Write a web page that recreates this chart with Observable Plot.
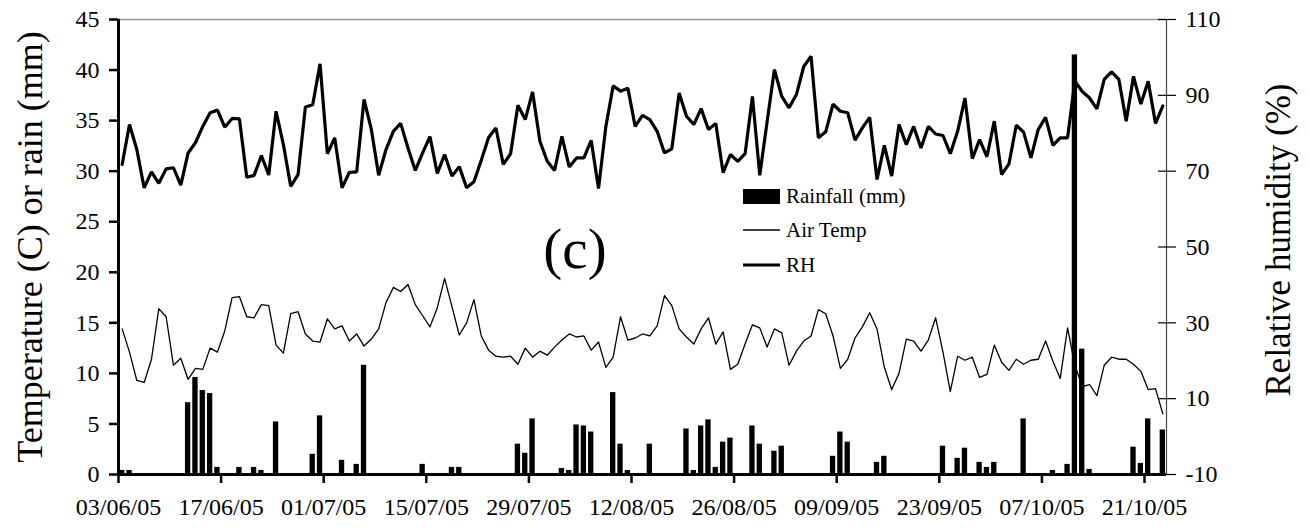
<!DOCTYPE html>
<html><head><meta charset="utf-8">
<script src="https://cdn.jsdelivr.net/npm/d3@7"></script>
<script src="https://cdn.jsdelivr.net/npm/@observablehq/plot@0.6"></script>
<style>
body{margin:0;background:#fff;}
#wrap{position:relative;width:1310px;height:530px;}
</style></head><body><div id="wrap"></div>
<script>
const startDate = "03/06/05";
const tickLabels = ["03/06/05","17/06/05","01/07/05","15/07/05","29/07/05","12/08/05","26/08/05","09/09/05","23/09/05","07/10/05","21/10/05"];
const tempTicks = [0,5,10,15,20,25,30,35,40,45];
const rhTicks = [-10,10,30,50,70,90,110];
const legendLabels = ["Rainfall (mm)","Air Temp","RH"];
const panelLabel = "(c)";
const yLabel = "Temperature (C) or rain (mm)";
const y2Label = "Relative humidity (%)";

const rain = [0.4,0.4,0,0,0,0,0,0,0.1,7.1,9.6,8.3,8.0,0.7,0,0,0.7,0,0.7,0.4,
0,5.2,0,0,0,0,2.0,5.8,0.1,0,1.4,0,1.0,10.8,0,0,0,0,0,0,
0,1.0,0,0,0,0.7,0.7,0,0,0.1,0,0,0,0,3.0,2.1,5.5,0,0,0,
0.6,0.4,4.9,4.8,4.2,0,0,8.1,3.0,0.4,0.1,0,3.0,0,0,0,0,4.5,0.4,4.8,
5.4,0.7,3.2,3.6,0,0,4.8,3.0,0,2.3,2.8,0,0,0.1,0,0,0.1,1.8,4.2,3.2,
0,0,0.1,1.2,1.8,0,0,0,0.1,0.1,0.1,0,2.8,0,1.6,2.6,0.1,1.2,0.7,1.2,
0,0,0,5.5,0,0,0,0.4,0.1,1.0,41.5,12.4,0.5,0.1,0,0,0.1,0,2.7,1.1,
5.5,0.1,4.4];
const airTemp = [14.4,12.1,9.3,9.1,11.4,16.4,15.6,10.8,11.5,9.4,10.5,10.4,12.5,12.1,14.2,17.5,17.6,15.6,15.5,16.8,
16.7,12.8,12.0,15.9,16.1,13.9,13.2,13.1,15.4,14.4,14.7,13.2,13.9,12.7,13.4,14.4,17.0,18.5,18.1,18.8,
16.8,15.7,14.6,16.5,19.4,16.6,13.8,15.0,17.3,13.7,12.3,11.7,11.6,11.7,10.9,12.5,11.6,12.2,11.8,12.6,
13.3,13.9,13.6,13.7,12.3,13.1,10.6,11.6,15.6,13.3,13.5,13.9,13.7,14.7,17.7,16.7,14.4,13.6,12.9,14.4,
15.5,12.9,14.1,10.4,10.9,12.9,14.8,14.5,12.6,14.4,14.0,10.8,12.2,13.2,13.7,16.3,15.9,13.7,10.5,11.4,
13.5,14.6,16.0,14.4,10.6,8.4,10.0,13.4,13.2,12.2,13.3,15.5,12.1,8.2,11.7,11.3,11.6,9.6,9.9,12.8,
11.1,10.3,11.4,10.9,11.3,11.4,13.2,11.2,9.5,14.5,10.8,8.7,8.9,7.8,10.8,11.6,11.4,11.4,10.9,10.2,
8.4,8.5,6.0];
const rh = [71.8,82.3,75.7,65.6,69.8,66.8,70.6,70.9,66.3,74.8,77.5,81.8,85.4,86.1,81.6,83.9,83.8,68.4,68.9,74.1,
69.0,85.8,77.0,66.0,69.1,86.9,87.5,98.3,74.6,78.8,65.6,69.7,69.8,88.9,81.0,68.9,75.7,80.5,82.6,76.1,
70.2,74.8,79.1,69.4,74.4,68.7,71.2,65.6,67.2,72.9,78.9,81.4,71.8,74.6,87.4,83.6,90.9,77.9,72.6,70.2,
79.2,71.1,73.5,73.5,78.1,65.4,81.8,92.5,91.1,91.9,81.8,84.7,83.6,80.5,74.8,75.9,90.6,84.5,82.3,86.5,
81.0,82.6,69.6,74.4,72.6,74.6,89.7,68.9,83.0,96.8,89.7,86.7,90.2,97.6,100.3,78.8,80.4,87.7,85.8,85.4,
78.2,81.4,84.2,67.8,76.8,68.7,82.3,77.0,81.8,76.1,81.8,79.8,79.4,74.6,80.5,89.3,73.3,78.3,73.8,83.2,
69.1,71.9,82.1,80.3,73.5,81.0,84.2,76.8,78.8,78.8,93.7,91.0,89.3,86.4,94.2,96.2,94.2,83.2,95.0,87.7,
93.7,82.6,87.2];

const FONT = "'Liberation Serif', 'Times New Roman', serif";
const parse = d3.utcParse("%d/%m/%y");
const fmt = d3.utcFormat("%d/%m/%y");
const t0 = parse(startDate);
const xEnd = d3.utcDay.offset(t0, rain.length);
const tickDates = tickLabels.map(parse);
const rhToY = d3.scaleLinear([-10, 110], [0, 45]);
const data = rain.map((r, i) => {
  const day = d3.utcDay.offset(t0, i);
  return {day, next: d3.utcDay.offset(t0, i + 1), mid: d3.utcHour.offset(day, 12), rain: r, temp: airTemp[i], rh: rh[i]};
});

const chart = Plot.plot({
  width: 1310, height: 530,
  marginLeft: 118, marginRight: 144, marginTop: 19, marginBottom: 56,
  style: {fontFamily: FONT, background: "#fff", color: "#000"},
  x: {type: "utc", domain: [t0, xEnd]},
  y: {domain: [0, 45]},
  marks: [
    Plot.ruleY([45], {stroke: "#999", strokeWidth: 1.5}),
    Plot.ruleX([xEnd], {stroke: "#444", strokeWidth: 1.2}),
    Plot.rectY(data, {x1: "day", x2: "next", y: "rain", insetLeft: 1, insetRight: 1, fill: "#000"}),
    Plot.line(data, {x: "mid", y: "temp", stroke: "#000", strokeWidth: 1.3}),
    Plot.line(data, {x: "mid", y: d => rhToY(d.rh), stroke: "#000", strokeWidth: 3.2, strokeLinejoin: "miter"}),
    Plot.ruleY([0], {stroke: "#000", strokeWidth: 3}),
    Plot.ruleX([t0], {stroke: "#000", strokeWidth: 3}),
    Plot.axisX(tickDates, {tickSize: 9, tickPadding: 14, tickFormat: fmt, fontSize: 24, label: null, strokeWidth: 2.5}),
    Plot.axisY(tempTicks, {anchor: "left", tickSize: 9, tickPadding: 10, fontSize: 24, label: null, strokeWidth: 2.5}),
    Plot.axisY(rhTicks.map(rhToY), {anchor: "right", tickSize: 9, tickPadding: 10, fontSize: 24, label: null, strokeWidth: 1.2, tickFormat: d => Math.round(rhToY.invert(d))}),
    Plot.axisY(rhTicks.map(rhToY), {anchor: "right", tickSize: -9, tickPadding: 0, label: null, strokeWidth: 1.2, tickFormat: () => ""})
  ]
});
document.getElementById("wrap").appendChild(chart);

const svg = d3.select(chart);
const g = svg.append("g").attr("font-family", FONT).attr("fill", "#000").attr("text-anchor", "start");
// axis titles
g.append("text").attr("transform", "translate(30,247) rotate(-90)").attr("text-anchor", "middle")
  .attr("dominant-baseline", "central").attr("font-size", 36).text(yLabel);
g.append("text").attr("transform", "translate(1278,240) rotate(-90)").attr("text-anchor", "middle")
  .attr("dominant-baseline", "central").attr("font-size", 35).text(y2Label);
// panel label
g.append("text").attr("x", 575).attr("y", 268).attr("text-anchor", "middle").attr("font-size", 57).text(panelLabel);
// legend
const lx = 743, lw = 37, tx = 786;
g.append("rect").attr("x", lx).attr("y", 189).attr("width", lw).attr("height", 15).attr("fill", "#000");
g.append("line").attr("x1", lx).attr("x2", lx + lw).attr("y1", 230).attr("y2", 230).attr("stroke", "#000").attr("stroke-width", 1.3);
g.append("line").attr("x1", lx).attr("x2", lx + lw).attr("y1", 265).attr("y2", 265).attr("stroke", "#000").attr("stroke-width", 3.2);
[203, 237, 272].forEach((y, i) => {
  g.append("text").attr("x", tx).attr("y", y).attr("text-anchor", "start").attr("font-size", 21).text(legendLabels[i]);
});
</script></body></html>
